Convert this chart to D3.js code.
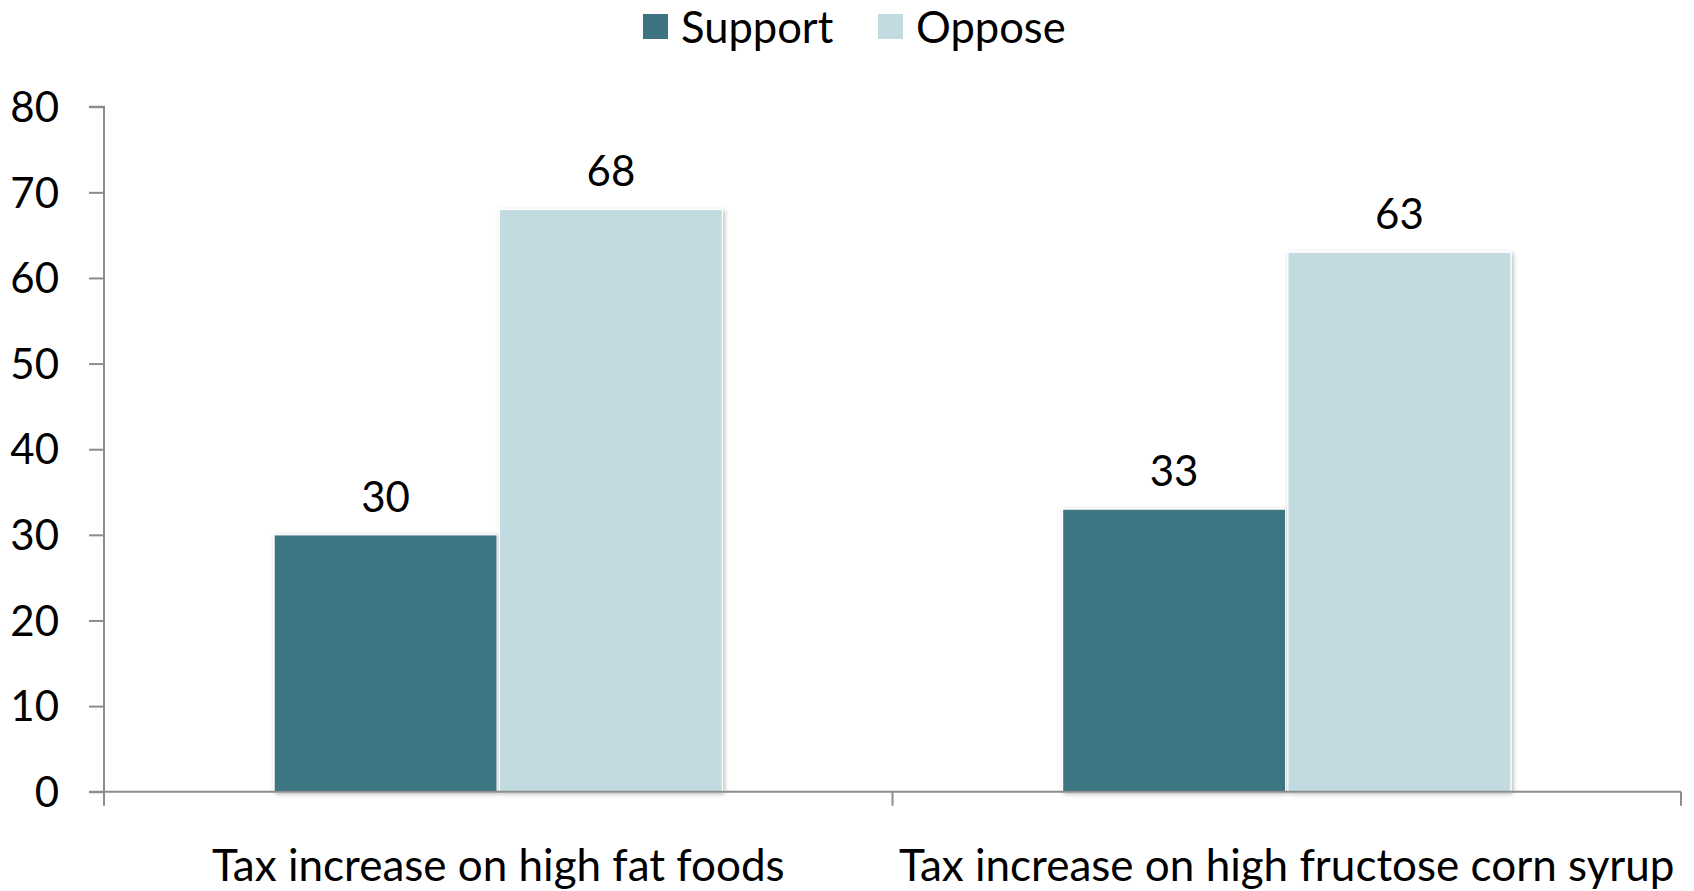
<!DOCTYPE html>
<html><head><meta charset="utf-8">
<script src="https://cdn.jsdelivr.net/npm/d3@7"></script>
<style>
html,body{margin:0;padding:0;background:#fff;}
text{font-family:Lato,"Open Sans",sans-serif;fill:#000;}
</style></head>
<body>
<svg id="chart" width="1694" height="891"></svg>
<script>
const categories = ["Tax increase on high fat foods", "Tax increase on high fructose corn syrup"];
const seriesNames = ["Support", "Oppose"];
const supportValues = [30, 33];
const opposeValues = [68, 63];
const yTicks = [0, 10, 20, 30, 40, 50, 60, 70, 80];
const colors = ["#3E7482", "#C2DBE1"];

const svg = d3.select("#chart");
const x0 = 104, x1 = 1681, yTop = 106.7, yBot = 791.7;

const defs = svg.append("defs");
const f = defs.append("filter").attr("id","sh").attr("x","-10%").attr("y","-10%").attr("width","120%").attr("height","120%");
f.append("feDropShadow").attr("dx",1.5).attr("dy",1.5).attr("stdDeviation",2).attr("flood-color","#000").attr("flood-opacity",0.3);

const x = d3.scaleBand().domain(categories).range([x0, x1]).paddingInner(0).paddingOuter(0);
const xs = d3.scaleBand().domain(seriesNames).range([0, x.bandwidth()]).paddingOuter(0.755).paddingInner(0.01);
const y = d3.scaleLinear().domain([0, 80]).range([yBot, yTop]);

const data = categories.map((c,i)=>({cat:c, vals:[supportValues[i], opposeValues[i]]}));

// bars
const g = svg.append("g");
data.forEach(d=>{
  d.vals.forEach((v,j)=>{
    const bx = x(d.cat) + xs(seriesNames[j]);
    g.append("rect")
      .attr("x", bx).attr("y", y(v))
      .attr("width", xs.bandwidth()).attr("height", y(0)-y(v))
      .attr("fill", colors[j]).attr("stroke","#fff").attr("stroke-width",1.2)
      .attr("filter","url(#sh)");
    g.append("text")
      .attr("x", bx + xs.bandwidth()/2).attr("y", y(v) - 23)
      .attr("text-anchor","middle").attr("font-size", 42)
      .text(v);
  });
});

// y axis
const yAxis = d3.axisLeft(y).tickValues(yTicks).tickSize(15).tickPadding(30);
const ya = svg.append("g").attr("transform",`translate(${x0},0)`).call(yAxis);
ya.select(".domain").attr("stroke","#8c8c8c").attr("stroke-width",2).attr("d",`M-15,${yTop}H0V${yBot}`);
ya.selectAll(".tick line").attr("stroke","#8c8c8c").attr("stroke-width",2);
ya.selectAll(".tick text").attr("font-size",42).attr("font-family","Lato").attr("fill","#000").attr("dy","0.35em").attr("x",-45);

// x axis
const xa = svg.append("g").attr("transform",`translate(0,${yBot})`);
xa.append("line").attr("x1",x0-15).attr("x2",x1).attr("y1",0).attr("y2",0).attr("stroke","#8c8c8c").attr("stroke-width",2);
const boundaries = [x0, x0 + x.bandwidth(), x1];
boundaries.forEach(b=>{
  xa.append("line").attr("x1",b).attr("x2",b).attr("y1",0).attr("y2",14).attr("stroke","#8c8c8c").attr("stroke-width",2);
});
categories.forEach(c=>{
  xa.append("text").attr("x", x(c)+x.bandwidth()/2).attr("y", 89)
    .attr("text-anchor","middle").attr("font-size",44).text(c);
});

// legend
const leg = svg.append("g");
const legX = [643, 878];
seriesNames.forEach((s,i)=>{
  leg.append("rect").attr("x",legX[i]).attr("y",14).attr("width",25).attr("height",25).attr("fill",colors[i]);
  leg.append("text").attr("x",legX[i]+38).attr("y",43).attr("font-size",43.5).text(s);
});
</script>
</body></html>
